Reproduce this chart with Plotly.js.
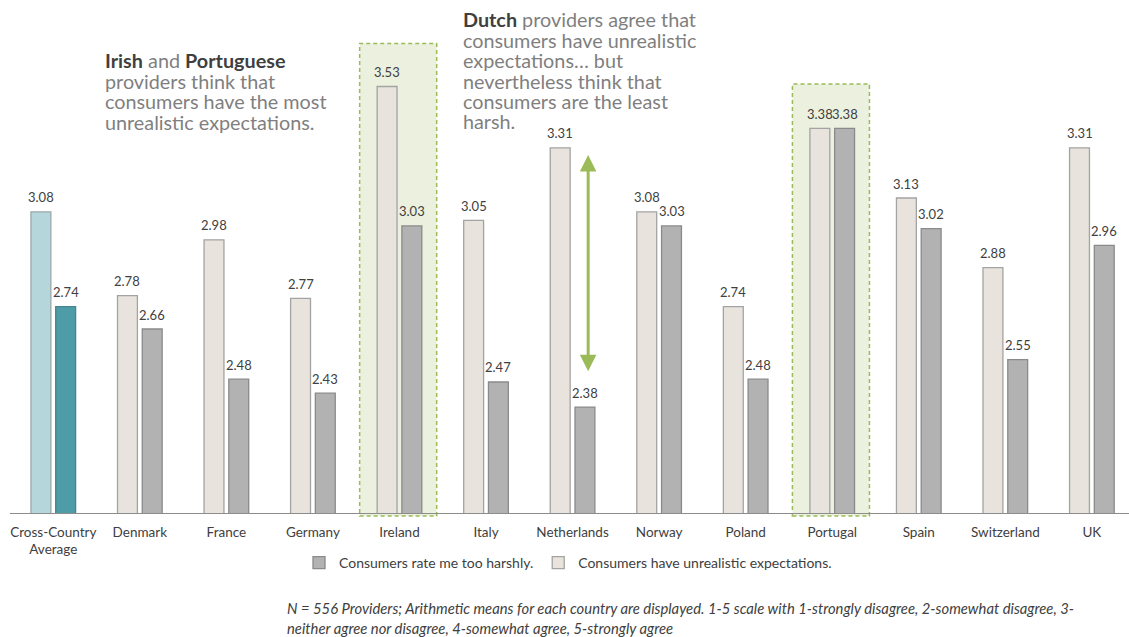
<!DOCTYPE html>
<html>
<head>
<meta charset="utf-8">
<script src="https://cdn.plot.ly/plotly-3.0.1.min.js"></script>
<style>
  html, body { margin: 0; padding: 0; background: #ffffff; }
  #chart { width: 1129px; height: 637px; }
</style>
</head>
<body>
<div id="chart"></div>
<script>
// ---- Data ----
const categories = ['Cross-Country<br>Average', 'Denmark', 'France', 'Germany', 'Ireland', 'Italy',
  'Netherlands', 'Norway', 'Poland', 'Portugal', 'Spain', 'Switzerland', 'UK'];
const unrealistic = [3.08, 2.78, 2.98, 2.77, 3.53, 3.05, 3.31, 3.08, 2.74, 3.38, 3.13, 2.88, 3.31];
const harshly = [2.74, 2.66, 2.48, 2.43, 3.03, 2.47, 2.38, 3.03, 2.48, 3.38, 3.02, 2.55, 2.96];
const seriesNames = ['Consumers rate me too harshly.', 'Consumers have unrealistic expectations.'];
const highlighted = ['Ireland', 'Portugal'];
const footnote = [
  'N = 556 Providers; Arithmetic means for each country are displayed. 1-5 scale with 1-strongly disagree, 2-somewhat disagree, 3-',
  'neither agree nor disagree, 4-somewhat agree, 5-strongly agree'
];
const callout1 = ['<b style="color:#3f3f3f">Irish</b> and <b style="color:#3f3f3f">Portuguese</b>',
  'providers think that', 'consumers have the most', 'unrealistic expectations.'];
const callout2 = ['<b style="color:#3f3f3f">Dutch</b> providers agree that', 'consumers have unrealistic',
  'expectations… but', 'nevertheless think that', 'consumers are the least', 'harsh.'];

// ---- Styling / geometry ----
const FONT = 'Lato, "Open Sans", sans-serif';
const BW = 0.23, OFF_L = -0.258, OFF_D = 0.028;
const ML = 10, MR = 0, MT = 67, MB = 124, W = 1129, H = 637;
const PW = W - ML - MR, PH = H - MT - MB;
const px2x = p => (p - ML) / PW;
const py2y = p => (H - MB - p) / PH;

const idx = categories.map((_, i) => i);
const cIdx = idx.slice(1);

const traces = [
  { // countries - harsh
    type: 'bar', name: seriesNames[0], x: cIdx, y: harshly.slice(1),
    width: BW, offset: OFF_D,
    marker: { color: '#b2b2b2', line: { color: '#8a8a8a', width: 1.3 } },
    hoverinfo: 'y', showlegend: true
  },
  { // countries - unrealistic
    type: 'bar', name: seriesNames[1], x: cIdx, y: unrealistic.slice(1),
    width: BW, offset: OFF_L,
    marker: { color: '#e8e4dd', line: { color: '#a3a3a3', width: 1.3 } },
    hoverinfo: 'y', showlegend: true
  },
  { // average - unrealistic
    type: 'bar', name: 'avgU', x: [0], y: [unrealistic[0]],
    width: BW, offset: OFF_L,
    marker: { color: '#b5d7dc', line: { color: '#9aa8aa', width: 1.3 } },
    hoverinfo: 'y', showlegend: false
  },
  { // average - harsh
    type: 'bar', name: 'avgH', x: [0], y: [harshly[0]],
    width: BW, offset: OFF_D,
    marker: { color: '#4d9ca7', line: { color: '#46858e', width: 1.3 } },
    hoverinfo: 'y', showlegend: false
  }
];

const annotations = [];
// value labels
idx.forEach(i => {
  annotations.push({ x: i + OFF_L + BW / 2, y: unrealistic[i], xref: 'x', yref: 'y',
    text: unrealistic[i].toFixed(2), showarrow: false, yanchor: 'middle', yshift: 14.5,
    font: { family: FONT, size: 13, color: '#404040' } });
  annotations.push({ x: i + OFF_D + BW / 2, y: harshly[i], xref: 'x', yref: 'y',
    text: harshly[i].toFixed(2), showarrow: false, yanchor: 'middle', yshift: 14.5,
    font: { family: FONT, size: 13, color: '#404040' } });
});
// callout texts
const CFS = 19.8;
const lineYs1 = [60.5, 81, 101.5, 122];
callout1.forEach((t, k) => annotations.push({
  xref: 'paper', yref: 'paper', x: px2x(104), y: py2y(lineYs1[k]), xanchor: 'left', yanchor: 'middle',
  text: t, showarrow: false, borderpad: 0, font: { family: FONT, size: CFS, color: '#7f7f7f' } }));
const lineYs2 = [19, 40, 60.5, 81, 101, 121.5];
callout2.forEach((t, k) => annotations.push({
  xref: 'paper', yref: 'paper', x: px2x(462), y: py2y(lineYs2[k]), xanchor: 'left', yanchor: 'middle',
  text: t, showarrow: false, borderpad: 0, font: { family: FONT, size: CFS, color: '#7f7f7f' } }));
// footnote
[608, 628].forEach((py, k) => annotations.push({
  xref: 'paper', yref: 'paper', x: px2x(286), y: py2y(py), xanchor: 'left', yanchor: 'middle',
  text: '<i>' + footnote[k] + '</i>', showarrow: false, borderpad: 0,
  font: { family: FONT, size: 14.8, color: '#404040' } }));
// double arrow for the Netherlands
const nl = categories.indexOf('Netherlands');
annotations.push({
  x: nl + 0.18, y: unrealistic[nl] - 0.026, xref: 'x', yref: 'y',
  ax: nl + 0.18, ay: harshly[nl] + 0.123, axref: 'x', ayref: 'y',
  text: '', showarrow: true, arrowhead: 2, arrowside: 'end+start', arrowsize: 1.1,
  arrowwidth: 3, arrowcolor: '#9bbb59'
});

// highlight boxes
const boxTops = { 'Ireland': 43.5, 'Portugal': 84 };
const shapes = highlighted.map(name => {
  const i = categories.indexOf(name);
  return { type: 'rect', layer: 'below', xref: 'x', yref: 'paper',
    x0: i - 0.46, x1: i + 0.43, y0: py2y(516), y1: py2y(boxTops[name]),
    fillcolor: '#ebf1de', line: { color: '#9bbb59', width: 1.5, dash: '4px,3px' } };
});

const layout = {
  width: W, height: H,
  margin: { l: ML, r: MR, t: MT, b: MB, pad: 0 },
  paper_bgcolor: '#ffffff', plot_bgcolor: 'rgba(0,0,0,0)',
  barmode: 'overlay',
  showlegend: true,
  legend: { orientation: 'h', x: px2x(568), xanchor: 'center', y: py2y(563), yanchor: 'middle',
    font: { family: FONT, size: 14, color: '#404040' }, traceorder: 'normal', itemwidth: 30 },
  xaxis: {
    range: [-0.5, -0.5 + PW / 86.55], tickmode: 'array', tickvals: idx, ticktext: categories,
    showline: true, linecolor: '#8c8c8c', linewidth: 1.3, showgrid: false, zeroline: false,
    ticks: '', ticklabelstandoff: 6,
    tickfont: { family: FONT, size: 13.5, color: '#404040' }, fixedrange: true
  },
  yaxis: { range: [2, 3.6], visible: false, showgrid: false, zeroline: false, fixedrange: true },
  annotations: annotations,
  shapes: shapes,
  font: { family: FONT }
};

Plotly.newPlot('chart', traces, layout, { displayModeBar: false, staticPlot: true });
</script>
</body>
</html>
